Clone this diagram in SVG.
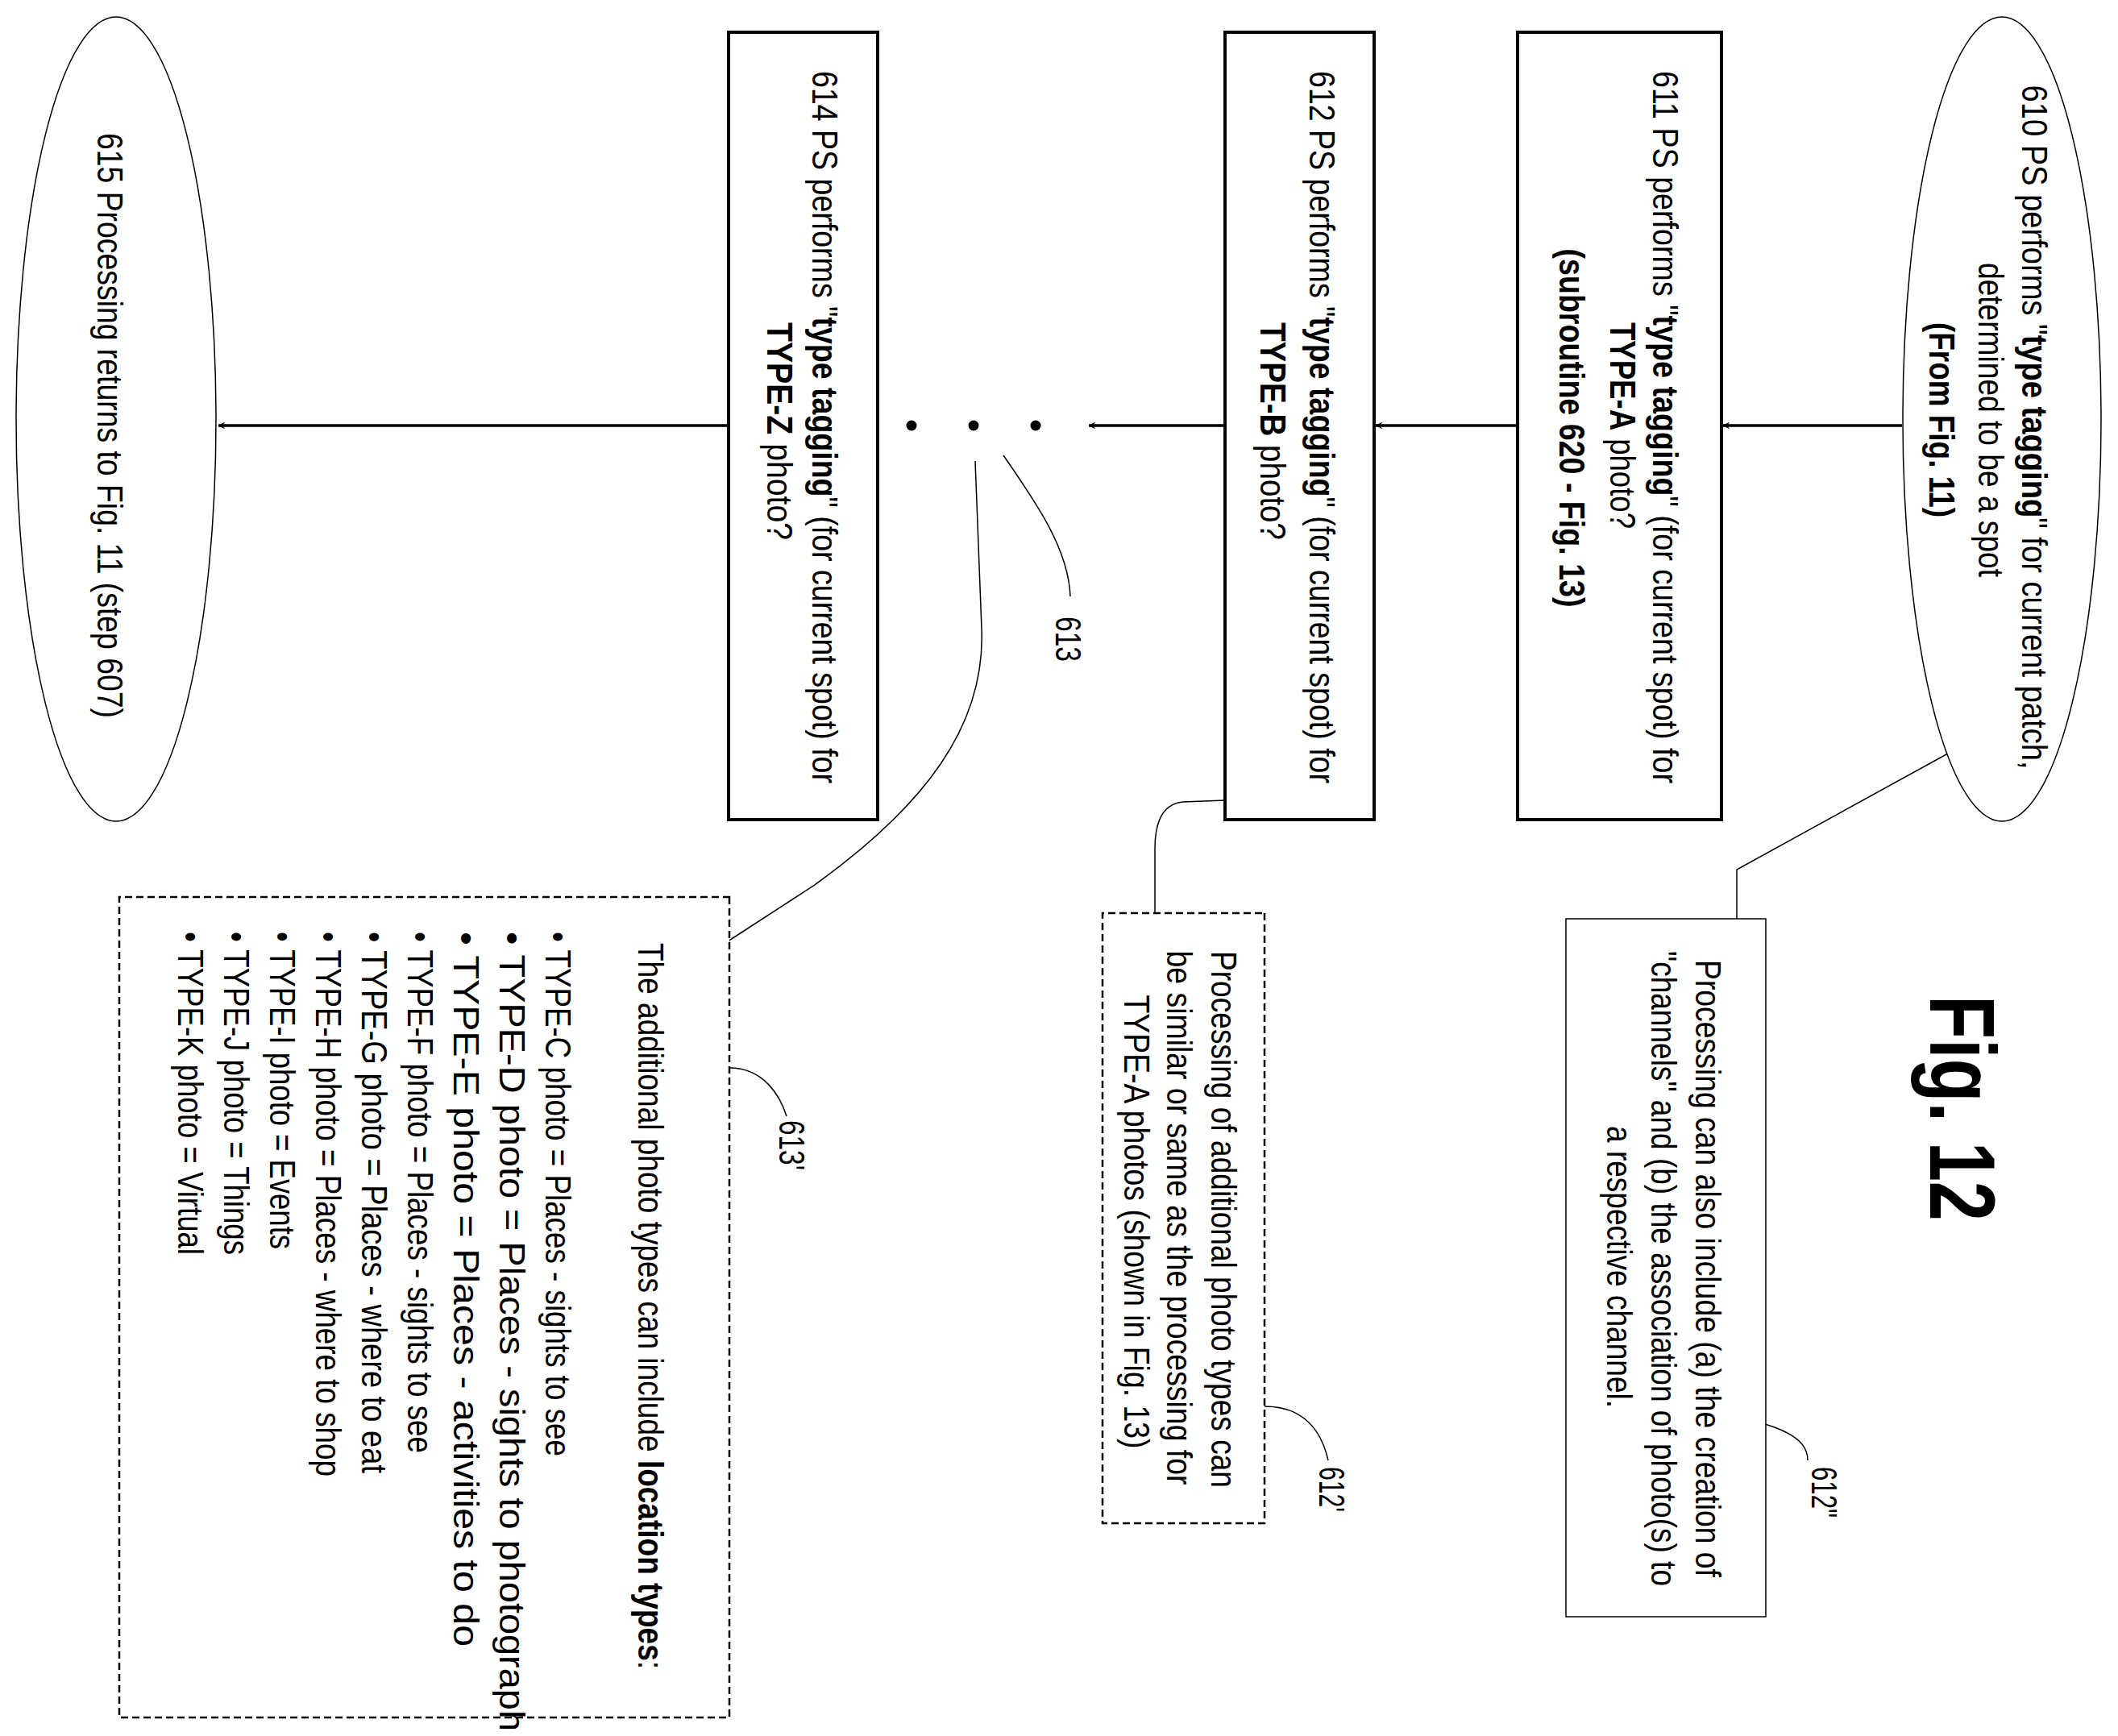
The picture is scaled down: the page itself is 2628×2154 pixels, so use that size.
<svg xmlns="http://www.w3.org/2000/svg" width="2628" height="2154" viewBox="0 0 2628 2154">
<style>
text{font-family:"Liberation Sans Narrow","Liberation Sans",Arial,sans-serif;font-size:44px;fill:#000}
.b{font-weight:bold}
.box{fill:#fff;stroke:#000;stroke-width:4}
.ell{fill:#fff;stroke:#000;stroke-width:1.5}
.note{fill:#fff;stroke:#000;stroke-width:1.5}
.dash{fill:#fff;stroke:#000;stroke-width:2.5;stroke-dasharray:9 5}
.ld{fill:none;stroke:#000;stroke-width:1.5}
.ar{fill:none;stroke:#000;stroke-width:3.5;marker-end:url(#ah)}
</style>
<defs>
<marker id="ah" viewBox="0 0 14 14" refX="13" refY="7" markerWidth="9" markerHeight="9" orient="auto" markerUnits="userSpaceOnUse">
<path d="M0,0 L14,7 L0,14 L5,7 z" fill="#000"/>
</marker>
</defs>
<rect width="2628" height="2154" fill="#fff"/>
<g transform="translate(2628,0) rotate(90)">
<g id="connectors">
<line class="ar" x1="528" y1="268" x2="528" y2="490"/>
<line class="ar" x1="528" y1="745" x2="528" y2="921"/>
<line class="ar" x1="528" y1="1108" x2="528" y2="1277"/>
<line class="ar" x1="528" y1="1724" x2="528" y2="2357"/>
<path class="ld" d="M930 202 L1079 473 L1158 473"/>
<path class="ld" d="M993 1108 L995 1160 Q998 1195 1053 1195 L1133 1195"/>
<path class="ld" d="M1745 1059 C1745 1000 1790 985 1812 980"/>
<path class="ld" d="M1745 685 C1745 400 1790 385 1812 385"/>
<path class="ld" d="M565 1383 C620 1345 680 1302 740 1300"/>
<path class="ld" d="M572 1418 L780 1410 C900 1405 1000 1480 1100 1620 L1170 1728"/>
<path class="ld" d="M1325 1723 C1325 1680 1360 1660 1385 1652"/>
</g>
<g id="n610">
<ellipse class="ell" cx="520" cy="144" rx="499" ry="123"/>
<text x="530" y="119" text-anchor="middle" textLength="849" lengthAdjust="spacingAndGlyphs">610 PS performs "<tspan class="b">type tagging</tspan>" for current patch,</text>
<text x="521" y="173" text-anchor="middle" textLength="390" lengthAdjust="spacingAndGlyphs">determined to be a spot</text>
<text x="521" y="234" text-anchor="middle" textLength="242" lengthAdjust="spacingAndGlyphs" class="b">(From Fig. 11)</text>
</g>
<g id="n611">
<rect class="box" x="40" y="492" width="977" height="253"/>
<text x="530" y="577" text-anchor="middle" textLength="884" lengthAdjust="spacingAndGlyphs">611 PS performs "<tspan class="b">type tagging</tspan>" (for current spot) for</text>
<text x="528" y="630" text-anchor="middle" textLength="256" lengthAdjust="spacingAndGlyphs"><tspan class="b">TYPE-A</tspan> photo?</text>
<text x="531" y="693" text-anchor="middle" textLength="445" lengthAdjust="spacingAndGlyphs" class="b">(subroutine  620 - Fig. 13)</text>
</g>
<g id="n612">
<rect class="box" x="40" y="923" width="977" height="185"/>
<text x="530" y="1003" text-anchor="middle" textLength="884" lengthAdjust="spacingAndGlyphs">612 PS performs "<tspan class="b">type tagging</tspan>" (for current spot) for</text>
<text x="535" y="1064" text-anchor="middle" textLength="270" lengthAdjust="spacingAndGlyphs"><tspan class="b">TYPE-B</tspan> photo?</text>
</g>
<g id="n613">
<circle cx="528" cy="1343" r="6.5"/>
<circle cx="528" cy="1420" r="6.5"/>
<circle cx="528" cy="1497" r="6.5"/>
<text x="793" y="1318" text-anchor="middle" textLength="56" lengthAdjust="spacingAndGlyphs">613</text>
</g>
<g id="n614">
<rect class="box" x="40" y="1539" width="977" height="185"/>
<text x="530" y="1620" text-anchor="middle" textLength="884" lengthAdjust="spacingAndGlyphs">614 PS performs "<tspan class="b">type tagging</tspan>" (for current spot) for</text>
<text x="535" y="1676" text-anchor="middle" textLength="270" lengthAdjust="spacingAndGlyphs"><tspan class="b">TYPE-Z</tspan> photo?</text>
</g>
<g id="n615">
<ellipse class="ell" cx="520" cy="2484" rx="499" ry="124"/>
<text x="528" y="2507" text-anchor="middle" textLength="726" lengthAdjust="spacingAndGlyphs">615 Processing returns to Fig. 11 (step 607)</text>
</g>
<g id="title">
<text x="1375" y="233" text-anchor="middle" textLength="280" lengthAdjust="spacingAndGlyphs" class="b" style="font-size:115px">Fig. 12</text>
</g>
<g id="n612pp">
<rect class="note" x="1140" y="437" width="866" height="248" stroke="#444"/>
<text x="1574" y="524" text-anchor="middle" textLength="766" lengthAdjust="spacingAndGlyphs">Processing can also include (a) the creation of</text>
<text x="1574" y="579" text-anchor="middle" textLength="788" lengthAdjust="spacingAndGlyphs">"channels" and (b) the association of photo(s) to</text>
<text x="1572" y="634" text-anchor="middle" textLength="350" lengthAdjust="spacingAndGlyphs">a respective channel.</text>
<text x="1820" y="380" textLength="63" lengthAdjust="spacingAndGlyphs">612"</text>
</g>
<g id="n612p">
<rect class="dash" x="1133" y="1059" width="757" height="201"/>
<text x="1513" y="1125" text-anchor="middle" textLength="666" lengthAdjust="spacingAndGlyphs">Processing of additional photo types can</text>
<text x="1511" y="1180" text-anchor="middle" textLength="663" lengthAdjust="spacingAndGlyphs">be similar or same as the processing for</text>
<text x="1516" y="1233" text-anchor="middle" textLength="563" lengthAdjust="spacingAndGlyphs">TYPE-A photos (shown in Fig. 13)</text>
<text x="1820" y="991" textLength="56" lengthAdjust="spacingAndGlyphs">612'</text>
</g>
<g id="n613p">
<rect class="dash" x="1113" y="1723" width="1018" height="757"/>
<text x="1170" y="1836" textLength="901" lengthAdjust="spacingAndGlyphs">The additional photo types can include <tspan class="b">location types</tspan>:</text>
<text x="1156" y="1951" textLength="651" lengthAdjust="spacingAndGlyphs">• TYPE-C photo = Places - sights to see</text>
<text x="1156" y="2008" textLength="992" lengthAdjust="spacingAndGlyphs">• TYPE-D photo = Places - sights to photograph</text>
<text x="1156" y="2065" textLength="887" lengthAdjust="spacingAndGlyphs">• TYPE-E photo = Places - activities to do</text>
<text x="1156" y="2122" textLength="647" lengthAdjust="spacingAndGlyphs">• TYPE-F photo = Places - sights to see</text>
<text x="1156" y="2179" textLength="672" lengthAdjust="spacingAndGlyphs">• TYPE-G photo = Places - where to eat</text>
<text x="1156" y="2236" textLength="676" lengthAdjust="spacingAndGlyphs">• TYPE-H photo = Places - where to shop</text>
<text x="1156" y="2293" textLength="394" lengthAdjust="spacingAndGlyphs">• TYPE-I photo = Events</text>
<text x="1156" y="2350" textLength="401" lengthAdjust="spacingAndGlyphs">• TYPE-J photo = Things</text>
<text x="1156" y="2407" textLength="401" lengthAdjust="spacingAndGlyphs">• TYPE-K photo = Virtual</text>
<text x="1390" y="1661" textLength="62" lengthAdjust="spacingAndGlyphs">613'</text>
</g>
</g>
</svg>
